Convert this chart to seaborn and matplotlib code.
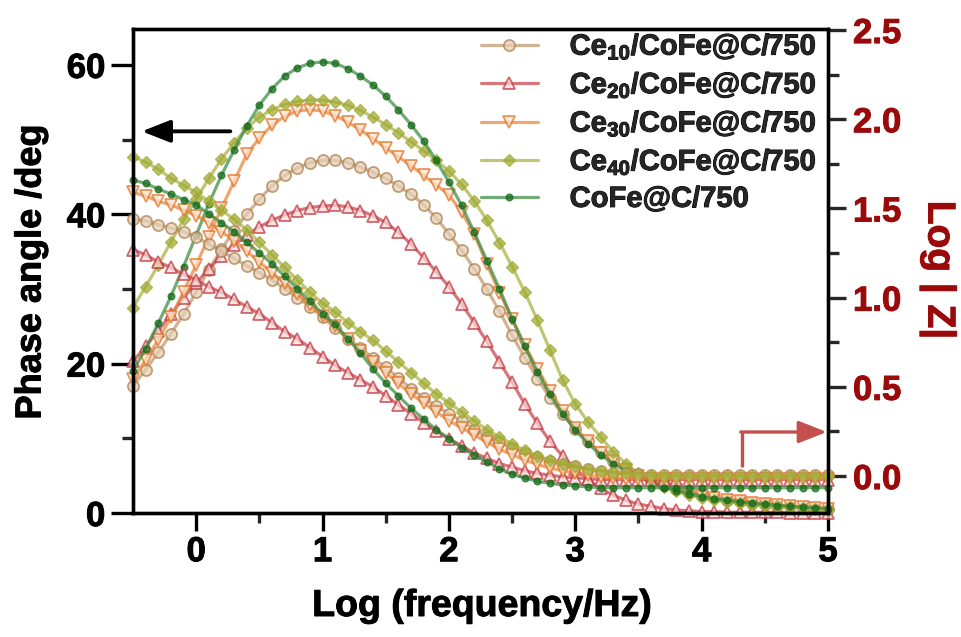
import matplotlib
matplotlib.use("Agg")
import matplotlib.pyplot as plt
import matplotlib.patheffects as pe
from matplotlib.ticker import FixedLocator
from matplotlib.lines import Line2D
import seaborn as sns

# log10 of frequency (Hz), 10 points per decade
log_freq = [-0.5, -0.4, -0.3, -0.2, -0.1, 0.0, 0.1, 0.2, 0.3, 0.4,
            0.5, 0.6, 0.7, 0.8, 0.9, 1.0, 1.1, 1.2, 1.3, 1.4,
            1.5, 1.6, 1.7, 1.8, 1.9, 2.0, 2.1, 2.2, 2.3, 2.4,
            2.5, 2.6, 2.7, 2.8, 2.9, 3.0, 3.1, 3.2, 3.3, 3.4,
            3.5, 3.6, 3.7, 3.8, 3.9, 4.0, 4.1, 4.2, 4.3, 4.4,
            4.5, 4.6, 4.7, 4.8, 4.9, 5.0]

# phase angle (deg)
phase_ce10 = [17.0, 19.2, 21.5, 24.0, 26.6, 29.6, 32.6, 35.3, 37.8, 40.0,
              42.0, 43.8, 45.2, 46.2, 46.9, 47.2, 47.2, 46.9, 46.3, 45.6,
              44.8, 43.8, 42.7, 41.3, 39.5, 37.4, 35.2, 32.7, 30.0, 27.0,
              23.8, 20.8, 18.0, 15.4, 13.2, 11.2, 9.6, 8.2, 7.0, 6.0,
              5.1, 4.4, 3.8, 3.2, 2.8, 2.4, 2.1, 1.8, 1.6, 1.4,
              1.2, 1.0, 0.9, 0.7, 0.6, 0.5]
phase_ce20 = [20.3, 22.3, 24.4, 26.6, 28.8, 30.8, 32.7, 34.4, 35.9, 37.2,
              38.3, 39.2, 39.9, 40.5, 40.9, 41.1, 41.2, 41.0, 40.5, 39.8,
              38.9, 37.6, 36.0, 34.2, 32.3, 30.3, 28.0, 25.5, 23.0, 20.2,
              17.5, 14.6, 12.0, 9.6, 7.6, 5.9, 4.5, 3.3, 2.4, 1.7,
              1.2, 0.9, 0.6, 0.4, 0.3, 0.2, 0.2, 0.1, 0.1, 0.1,
              0.1, 0.1, 0.0, 0.0, 0.0, 0.0]
phase_ce30 = [18.0, 20.5, 23.2, 26.2, 29.6, 33.2, 37.0, 40.8, 44.4, 48.0,
              50.2, 51.9, 53.1, 53.8, 54.0, 53.8, 53.2, 52.3, 51.3, 50.1,
              48.9, 47.7, 46.5, 45.2, 43.9, 42.6, 40.3, 37.4, 33.3, 29.5,
              26.0, 22.5, 19.3, 16.4, 13.7, 11.4, 9.6, 8.1, 6.9, 5.8,
              4.9, 4.2, 3.6, 3.1, 2.7, 2.3, 2.0, 1.8, 1.6, 1.4,
              1.2, 1.1, 0.9, 0.8, 0.7, 0.6]
phase_ce40 = [27.5, 30.3, 33.2, 36.3, 39.3, 42.0, 44.8, 47.4, 49.6, 51.5,
              53.0, 54.0, 54.7, 55.1, 55.3, 55.3, 55.0, 54.6, 53.9, 53.0,
              52.0, 50.9, 49.7, 48.5, 47.2, 45.8, 44.0, 41.8, 39.2, 36.2,
              33.0, 29.6, 25.8, 21.8, 17.8, 14.6, 12.2, 10.2, 8.2, 6.6,
              5.3, 4.3, 3.5, 2.9, 2.4, 2.0, 1.7, 1.5, 1.3, 1.1,
              1.0, 0.9, 0.8, 0.7, 0.6, 0.5]
phase_cofe = [19.0, 22.0, 25.4, 29.0, 33.0, 37.2, 41.4, 45.2, 48.6, 51.8,
              54.6, 56.8, 58.5, 59.6, 60.2, 60.4, 60.2, 59.5, 58.5, 57.3,
              55.8, 54.0, 52.0, 49.8, 47.2, 44.3, 41.2, 37.6, 33.8, 30.0,
              26.0, 22.3, 18.9, 15.9, 13.3, 11.1, 9.3, 7.8, 6.6, 5.6,
              4.8, 4.1, 3.5, 3.0, 2.6, 2.2, 1.9, 1.7, 1.5, 1.3,
              1.2, 1.0, 0.9, 0.8, 0.7, 0.6]

# log |Z| (ohm)
logz_ce10 = [1.44, 1.43, 1.41, 1.39, 1.37, 1.34, 1.30, 1.26, 1.22, 1.18,
             1.14, 1.10, 1.05, 1.00, 0.95, 0.89, 0.83, 0.77, 0.72, 0.66,
             0.61, 0.55, 0.49, 0.44, 0.39, 0.35, 0.31, 0.26, 0.22, 0.19,
             0.155, 0.13, 0.105, 0.085, 0.07, 0.055, 0.04, 0.03, 0.02, 0.015,
             0.01, 0.005, 0.005, 0.005, 0.005, 0.005, 0.005, 0.005, 0.005, 0.005,
             0.005, 0.005, 0.005, 0.005, 0.005, 0.005]
logz_ce20 = [1.27, 1.24, 1.20, 1.17, 1.13, 1.10, 1.06, 1.03, 0.99, 0.95,
             0.91, 0.86, 0.81, 0.77, 0.72, 0.67, 0.62, 0.58, 0.54, 0.50,
             0.45, 0.40, 0.35, 0.30, 0.25, 0.21, 0.17, 0.13, 0.10, 0.07,
             0.05, 0.03, 0.015, 0.005, -0.005, -0.01, -0.015, -0.02, -0.02, -0.02,
             -0.02, -0.02, -0.02, -0.02, -0.02, -0.02, -0.02, -0.02, -0.02, -0.02,
             -0.02, -0.02, -0.02, -0.02, -0.02, -0.02]
logz_ce30 = [1.59, 1.57, 1.54, 1.52, 1.49, 1.46, 1.42, 1.37, 1.32, 1.26,
             1.20, 1.14, 1.08, 1.02, 0.96, 0.90, 0.84, 0.77, 0.70, 0.64,
             0.58, 0.52, 0.46, 0.41, 0.36, 0.31, 0.27, 0.23, 0.19, 0.15,
             0.12, 0.09, 0.065, 0.045, 0.03, 0.015, 0.005, -0.005, -0.01, -0.015,
             -0.015, -0.015, -0.015, -0.015, -0.015, -0.015, -0.015, -0.015, -0.015, -0.015,
             -0.015, -0.015, -0.015, -0.015, -0.015, -0.015]
logz_ce40 = [1.79, 1.76, 1.72, 1.67, 1.63, 1.59, 1.54, 1.49, 1.44, 1.38,
             1.31, 1.24, 1.17, 1.10, 1.03, 0.97, 0.92, 0.86, 0.81, 0.76,
             0.70, 0.64, 0.58, 0.52, 0.46, 0.41, 0.36, 0.31, 0.26, 0.22,
             0.18, 0.145, 0.115, 0.09, 0.07, 0.055, 0.04, 0.03, 0.02, 0.015,
             0.01, 0.005, 0.0, 0.0, 0.0, 0.0, 0.0, 0.0, 0.0, 0.0,
             0.0, 0.0, 0.0, 0.0, 0.0, 0.0]
logz_cofe = [1.66, 1.64, 1.61, 1.58, 1.55, 1.52, 1.47, 1.42, 1.37, 1.31,
             1.25, 1.19, 1.12, 1.05, 0.98, 0.91, 0.85, 0.77, 0.69, 0.60,
             0.52, 0.45, 0.38, 0.32, 0.26, 0.21, 0.16, 0.12, 0.08, 0.04,
             0.01, -0.01, -0.03, -0.04, -0.05, -0.055, -0.06, -0.065, -0.065, -0.065,
             -0.065, -0.065, -0.065, -0.065, -0.065, -0.065, -0.065, -0.065, -0.065, -0.065,
             -0.065, -0.065, -0.065, -0.065, -0.065, -0.065]

labels = [r"Ce$_{\mathbf{10}}$/CoFe@C/750", r"Ce$_{\mathbf{20}}$/CoFe@C/750",
          r"Ce$_{\mathbf{30}}$/CoFe@C/750", r"Ce$_{\mathbf{40}}$/CoFe@C/750",
          "CoFe@C/750"]
phases = [phase_ce10, phase_ce20, phase_ce30, phase_ce40, phase_cofe]
logzs = [logz_ce10, logz_ce20, logz_ce30, logz_ce40, logz_cofe]

styles = [
    dict(color="#C19668", marker="o", markersize=8, markerfacecolor="#E4CFB5",
         markeredgecolor="#AD7E4C", markeredgewidth=1.3),
    dict(color="#C8434B", marker="^", markersize=8, markerfacecolor="#F6DADA",
         markeredgecolor="#C03038", markeredgewidth=1.3),
    dict(color="#E8863A", marker="v", markersize=8, markerfacecolor="#FBE3CF",
         markeredgecolor="#E07020", markeredgewidth=1.3),
    dict(color="#A8B040", marker="D", markersize=6.5, markerfacecolor="#A0AA32",
         markeredgecolor="#A0AA32", markeredgewidth=1.0),
    dict(color="#3A8C42", marker="o", markersize=4.8, markerfacecolor="#146A18",
         markeredgecolor="#146A18", markeredgewidth=1.0),
]

sns.set_style("ticks")
plt.rcParams["font.family"] = ["Liberation Sans", "DejaVu Sans"]
plt.rcParams["font.weight"] = "bold"
plt.rcParams["mathtext.fontset"] = "custom"
plt.rcParams["mathtext.bf"] = "Liberation Sans:bold"
plt.rcParams["mathtext.rm"] = "Liberation Sans:bold"

heavy = [pe.withStroke(linewidth=0.7, foreground="black")]
heavy_red = [pe.withStroke(linewidth=0.7, foreground="#9B0A0A")]
dark_red = "#9B0A0A"

W, H = 961, 637
fig = plt.figure(figsize=(W / 100, H / 100), dpi=100)
ax = fig.add_axes([133 / W, 1 - 513 / H, (828 - 133) / W, (513 - 29) / H])
ax2 = ax.twinx()

line_kw = dict(linewidth=2.3, alpha=0.72, clip_on=False, legend=False)
for vals, st in zip(phases, styles):
    sns.lineplot(x=log_freq, y=vals, ax=ax, **st, **line_kw)
for vals, st in zip(logzs, styles):
    sns.lineplot(x=log_freq, y=vals, ax=ax2, **st, **line_kw)

# axes ranges
ax.set_xlim(-0.5, 5.0)
ax.set_ylim(0, 64.8)
ax2.set_ylim(-0.207, 2.506)
ax.set_xlabel("")
ax.set_ylabel("")
ax2.set_ylabel("")

# ticks
ax.xaxis.set_major_locator(FixedLocator([0, 1, 2, 3, 4, 5]))
ax.xaxis.set_minor_locator(FixedLocator([0.5, 1.5, 2.5, 3.5, 4.5]))
ax.yaxis.set_major_locator(FixedLocator([0, 20, 40, 60]))
ax.yaxis.set_minor_locator(FixedLocator([10, 30, 50]))
ax2.yaxis.set_major_locator(FixedLocator([0.0, 0.5, 1.0, 1.5, 2.0, 2.5]))
ax2.yaxis.set_minor_locator(FixedLocator([0.25, 0.75, 1.25, 1.75, 2.25]))
ax2.set_yticklabels(["0.0", "0.5", "1.0", "1.5", "2.0", "2.5"])

tick_fs = 25
ax.tick_params(axis="y", which="major", direction="out", length=16, width=2.4,
               labelsize=tick_fs, pad=4, color="black", labelcolor="black")
ax.tick_params(axis="y", which="minor", direction="out", length=8, width=2.4)
ax.tick_params(axis="x", which="major", direction="out", length=13, width=2.4,
               labelsize=tick_fs, pad=3, color="black", labelcolor="black")
ax.tick_params(axis="x", which="minor", direction="out", length=7, width=2.4)
ax2.tick_params(axis="y", which="major", direction="out", length=13, width=2.4,
                labelsize=tick_fs, pad=5, labelcolor=dark_red)
ax2.tick_params(axis="y", which="minor", direction="out", length=8, width=2.4)
for lab in ax.get_xticklabels() + ax.get_yticklabels():
    lab.set_fontweight("bold")
    lab.set_path_effects(heavy)
for lab in ax2.get_yticklabels():
    lab.set_fontweight("bold")
    lab.set_path_effects(heavy_red)

for a in (ax, ax2):
    for sp in a.spines.values():
        sp.set_visible(True)
        sp.set_linewidth(2.4)
        sp.set_color("black")

# axis titles
fig.text(31 / W, 1 - 272 / H, "Phase angle /deg", rotation=90, ha="center",
         va="center", fontsize=26, fontweight="bold", color="black",
         path_effects=heavy)
fig.text(482 / W, 1 - 606 / H, "Log (frequency/Hz)", ha="center", va="center",
         fontsize=27, fontweight="bold", color="black", path_effects=heavy)
fig.text(938 / W, 1 - 270 / H, "Log | Z|", rotation=270, ha="center",
         va="center", fontsize=28, fontweight="bold", color=dark_red,
         path_effects=heavy_red)

# arrows pointing to each axis
ax.annotate("", xy=(-0.43, 51.1), xytext=(0.27, 51.1),
            arrowprops=dict(arrowstyle="-|>,head_length=0.86,head_width=0.34",
                            mutation_scale=20, lw=2.8, color="black",
                            shrinkA=0, shrinkB=0))
red_arrow = "#C4504E"
ax2.plot([4.32, 4.32], [0.05, 0.247], color=red_arrow, lw=2.4,
         solid_capstyle="butt")
ax2.annotate("", xy=(4.99, 0.247), xytext=(4.31, 0.247),
             arrowprops=dict(arrowstyle="-|>,head_length=0.86,head_width=0.34",
                             mutation_scale=20, lw=2.4, color=red_arrow,
                             shrinkA=0, shrinkB=0))

# legend
handles = [Line2D([], [], linewidth=2.3, alpha=0.72, **st) for st in styles]
leg = ax.legend(handles, labels, loc="upper right", bbox_to_anchor=(1.0, 1.02),
                frameon=False, fontsize=21, handlelength=1.93, handletextpad=1.1,
                labelspacing=0.27, borderaxespad=0.0, numpoints=1)
for t in leg.get_texts():
    t.set_fontweight("bold")
    t.set_path_effects(heavy)

fig.savefig("out.png", dpi=100)
